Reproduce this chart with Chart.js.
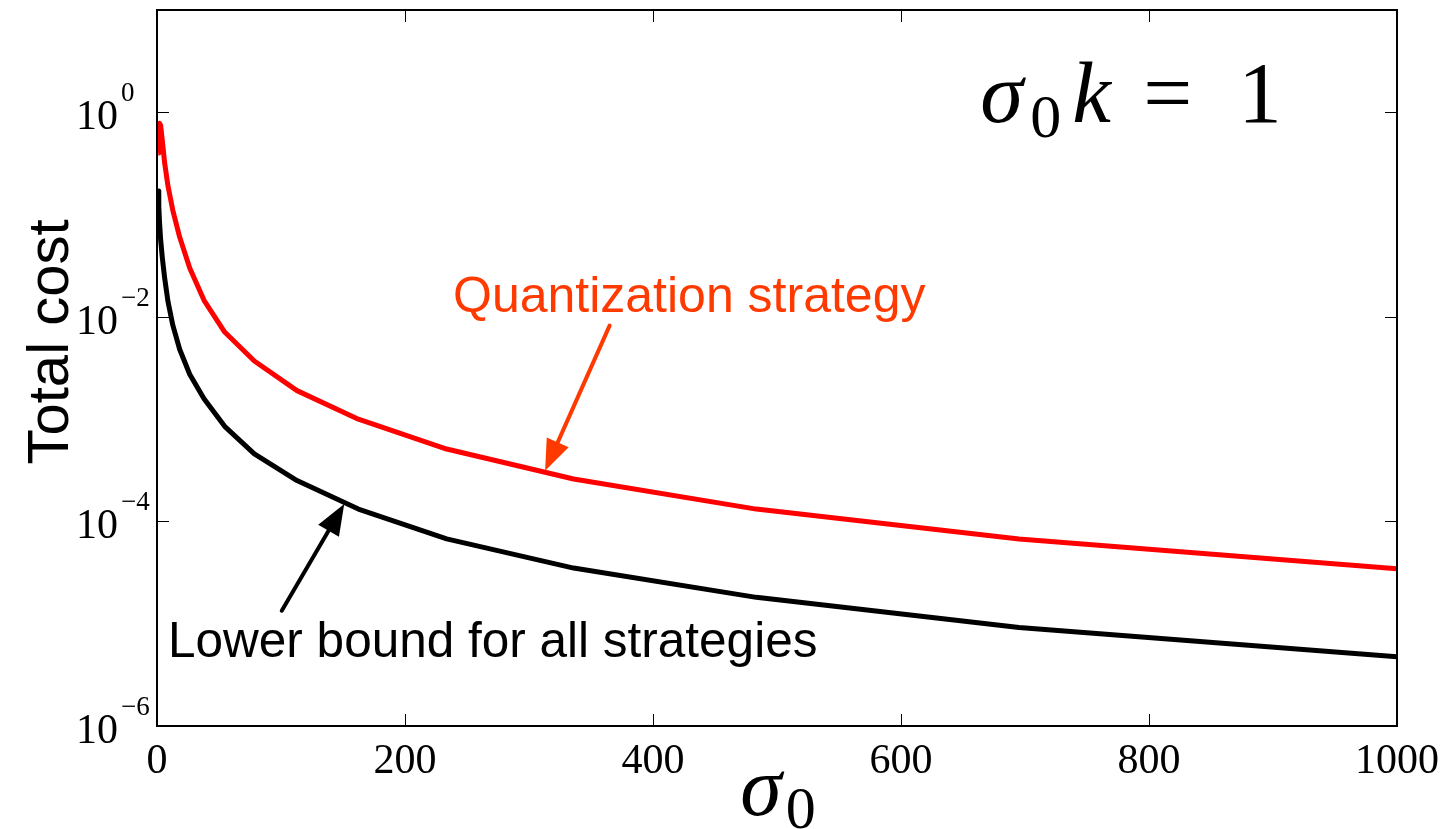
<!DOCTYPE html>
<html>
<head>
<meta charset="utf-8">
<script src="https://cdn.jsdelivr.net/npm/chart.js@4"></script>
<style>
  body { margin: 0; background: #fff; }
  #contenedor { width: 1449px; height: 829px; }
</style>
</head>
<body>
<div id="contenedor"><canvas id="grafica"></canvas></div>
<script>
// valores (sigma0 en escala logaritmica de 1 a 1000)
const sigma = [1, 1.438, 2.069, 2.976, 4.281, 6.158, 8.859, 12.74, 18.33, 26.37, 37.93, 54.56, 78.48, 112.9, 162.4, 233.6, 336.0, 483.3, 695.2, 1000];
const costoCuantizacion = [0.40, 0.65, 0.78, 0.74, 0.53, 0.32, 0.19, 0.11, 0.060, 0.030, 0.0145, 0.0071, 0.0037, 0.0019, 0.001, 0.00051, 0.00026, 0.000132, 0.0000673, 0.0000345];
const cotaInferior = [0.17, 0.12, 0.083, 0.056, 0.038, 0.024, 0.0141, 0.0083, 0.0048, 0.00275, 0.00158, 0.00085, 0.000457, 0.000251, 0.000132, 0.0000676, 0.000035, 0.0000181, 0.0000092, 0.00000475];

const ticksX = [0, 200, 400, 600, 800, 1000];
const ticksY = [1e-6, 1e-4, 1e-2, 1];
const exponentesY = ["\u22126", "\u22124", "\u22122", "0"];

const rojoTexto = "#ff3a00";

function flecha(ctx, x0, y0, x1, y1, color, ancho) {
  const ang = Math.atan2(y1 - y0, x1 - x0);
  const largo = 31, mitad = 12;
  const bx = x1 - largo * Math.cos(ang), by = y1 - largo * Math.sin(ang);
  ctx.strokeStyle = color;
  ctx.fillStyle = color;
  ctx.lineWidth = ancho;
  ctx.lineCap = "round";
  ctx.beginPath();
  ctx.moveTo(x0, y0);
  ctx.lineTo(bx, by);
  ctx.stroke();
  ctx.beginPath();
  ctx.moveTo(x1, y1);
  ctx.lineTo(bx + mitad * Math.sin(ang), by - mitad * Math.cos(ang));
  ctx.lineTo(bx - mitad * Math.sin(ang), by + mitad * Math.cos(ang));
  ctx.closePath();
  ctx.fill();
}

const marco = {
  id: "marco",
  afterDraw(chart) {
    const ctx = chart.ctx;
    const { left, right, top, bottom } = chart.chartArea;
    const x = chart.scales.x, y = chart.scales.y;
    ctx.save();

    // caja y marcas hacia dentro
    ctx.strokeStyle = "#000";
    ctx.lineWidth = 2;
    ctx.strokeRect(left, top, right - left, bottom - top);
    ctx.lineWidth = 1;
    ctx.beginPath();
    ticksX.forEach((v) => {
      const px = Math.round(x.getPixelForValue(v)) + 0.5;
      ctx.moveTo(px, bottom); ctx.lineTo(px, bottom - 12);
      ctx.moveTo(px, top); ctx.lineTo(px, top + 12);
    });
    ticksY.forEach((v) => {
      const py = Math.round(y.getPixelForValue(v)) + 0.5;
      ctx.moveTo(left, py); ctx.lineTo(left + 12, py);
      ctx.moveTo(right, py); ctx.lineTo(right - 12, py);
    });
    ctx.stroke();

    // etiquetas de los ejes
    ctx.fillStyle = "#000";
    ctx.textBaseline = "alphabetic";
    ctx.font = "42px 'Liberation Serif'";
    ctx.textAlign = "center";
    ticksX.forEach((v) => ctx.fillText(String(v), x.getPixelForValue(v), bottom + 47));
    ticksY.forEach((v, i) => {
      const py = y.getPixelForValue(v);
      ctx.font = "42px 'Liberation Serif'";
      ctx.textAlign = "right";
      ctx.fillText("10", left - 39, py + 17);
      ctx.font = "27px 'Liberation Serif'";
      ctx.textAlign = "left";
      ctx.fillText(exponentesY[i], left - 36, py - 11);
    });

    // titulo eje y
    ctx.save();
    ctx.translate(68, 342);
    ctx.rotate(-Math.PI / 2);
    ctx.font = "58px 'Liberation Sans'";
    ctx.textAlign = "center";
    ctx.fillText("Total cost", 0, 0);
    ctx.restore();

    // titulo eje x: sigma_0
    ctx.textAlign = "left";
    ctx.font = "italic 84px 'Liberation Serif'";
    const wS = ctx.measureText("\u03c3").width;
    ctx.font = "60px 'Liberation Serif'";
    const w0 = ctx.measureText("0").width;
    const xs = 778 - (wS + w0 + 4) / 2;
    ctx.font = "italic 84px 'Liberation Serif'";
    ctx.fillText("\u03c3", xs, 815);
    ctx.font = "60px 'Liberation Serif'";
    ctx.fillText("0", xs + wS + 4, 828);

    // anotacion sigma_0 k = 1
    const ax = x.getPixelForValue(664), ay = y.getPixelForValue(0.8);
    ctx.font = "italic 87px 'Liberation Serif'";
    ctx.fillText("\u03c3", ax, ay);
    ctx.font = "62px 'Liberation Serif'";
    ctx.fillText("0", ax + 50, ay + 15);
    ctx.font = "italic 87px 'Liberation Serif'";
    ctx.fillText("k", ax + 92, ay);
    ctx.font = "87px 'Liberation Serif'";
    ctx.fillText("=", ax + 163, ay);
    ctx.fillText("1", ax + 258, ay);

    // textos y flechas
    ctx.font = "50px 'Liberation Sans'";
    ctx.fillStyle = rojoTexto;
    ctx.fillText("Quantization strategy", x.getPixelForValue(238.7), y.getPixelForValue(0.0112));
    flecha(ctx, x.getPixelForValue(365), y.getPixelForValue(0.0082), x.getPixelForValue(313), y.getPixelForValue(0.000313), rojoTexto, 4);

    ctx.font = "49.5px 'Liberation Sans'";
    ctx.fillStyle = "#000";
    ctx.fillText("Lower bound for all strategies", x.getPixelForValue(8.9), y.getPixelForValue(0.00000475));
    flecha(ctx, x.getPixelForValue(100.6), y.getPixelForValue(0.0000134), x.getPixelForValue(151), y.getPixelForValue(0.000148), "#000", 4);

    ctx.restore();
  },
};

new Chart(document.getElementById("grafica"), {
  type: "line",
  data: {
    datasets: [
      {
        label: "Quantization strategy",
        data: sigma.map((s, i) => ({ x: s, y: costoCuantizacion[i] })),
        borderColor: "#ff0000",
        borderWidth: 5,
        borderJoinStyle: "round",
        pointRadius: 0,
        tension: 0,
      },
      {
        label: "Lower bound for all strategies",
        data: sigma.map((s, i) => ({ x: s, y: cotaInferior[i] })),
        borderColor: "#000000",
        borderWidth: 5,
        borderJoinStyle: "round",
        pointRadius: 0,
        tension: 0,
      },
    ],
  },
  options: {
    responsive: true,
    maintainAspectRatio: false,
    animation: false,
    layout: { padding: { top: 10, right: 52, left: 0, bottom: 0 } },
    plugins: { legend: { display: false }, tooltip: { enabled: false } },
    scales: {
      x: {
        type: "linear",
        min: 0,
        max: 1000,
        grid: { display: false },
        border: { display: false },
        ticks: { display: false },
        afterFit: (s) => { s.height = 103; },
      },
      y: {
        type: "logarithmic",
        min: 1e-6,
        max: 10,
        grid: { display: false },
        border: { display: false },
        ticks: { display: false },
        afterFit: (s) => { s.width = 157; },
      },
    },
  },
  plugins: [marco],
});
</script>
</body>
</html>
